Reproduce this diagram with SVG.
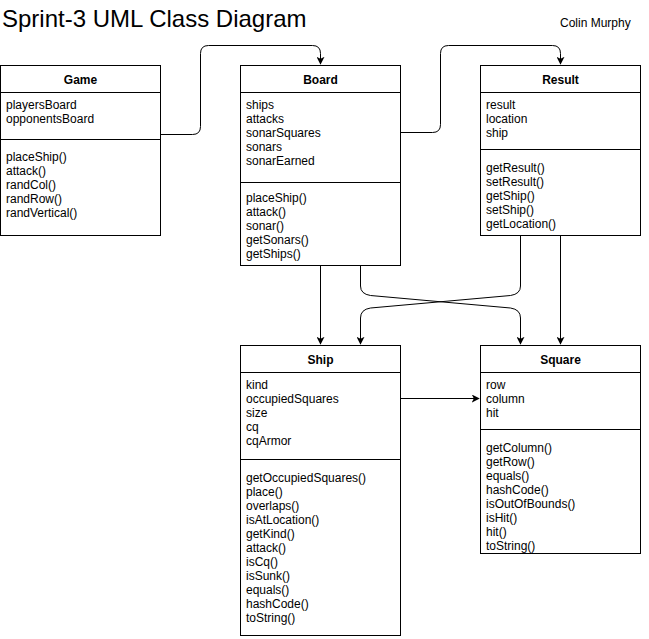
<svg xmlns="http://www.w3.org/2000/svg" width="649" height="639" viewBox="0 0 649 639">
<defs>
<marker id="arr" viewBox="0 0 10 10" refX="9" refY="5" markerWidth="8" markerHeight="8" markerUnits="userSpaceOnUse" orient="auto">
<path d="M0,0 L10,5 L0,10 L2.5,5 Z" fill="#000"/>
</marker>
<style>
.box{fill:#fff;stroke:#000;stroke-width:1}
.ln{stroke:#000;stroke-width:1}
text{font-family:"Liberation Sans",Arial,sans-serif;font-size:12px;fill:#000}
.hd{font-weight:bold;text-anchor:middle}
.c{fill:none;stroke:#000;stroke-width:1;marker-end:url(#arr)}
</style>
</defs>
<rect width="649" height="639" fill="#fff"/>
<text x="2" y="27" style="font-size:24px">Sprint-3 UML Class Diagram</text>
<text x="560" y="27">Colin Murphy</text>

<g id="connectors">
<path class="c" d="M160.5,134.5 H192.5 Q200.5,134.5 200.5,126.5 V53.5 Q200.5,45.5 208.5,45.5 H312.5 Q320.5,45.5 320.5,53.5 V64"/>
<path class="c" d="M400.5,132.5 H432.5 Q440.5,132.5 440.5,124.5 V53.5 Q440.5,45.5 448.5,45.5 H552.5 Q560.5,45.5 560.5,53.5 V64"/>
<path class="c" d="M320.5,265.5 V344"/>
<path class="c" d="M360.5,265.5 V286 Q360.5,294 370.5,295.5 L510.5,308 Q520.5,309.5 520.5,318 V344"/>
<path class="c" d="M520.5,235.5 V286 Q520.5,294 510.5,295.5 L370.5,308 Q360.5,309.5 360.5,318 V344"/>
<path class="c" d="M560.5,235.5 V344"/>
<path class="c" d="M400.5,398.5 H479"/>
</g>

<g id="game">
<rect class="box" x="0.5" y="65.5" width="160" height="170"/>
<line class="ln" x1="0.5" y1="92.5" x2="160.5" y2="92.5"/>
<line class="ln" x1="0.5" y1="139.5" x2="160.5" y2="139.5"/>
<text class="hd" x="80.5" y="84">Game</text>
<text x="6" y="109">playersBoard</text>
<text x="6" y="123">opponentsBoard</text>
<text x="6" y="161">placeShip()</text>
<text x="6" y="175">attack()</text>
<text x="6" y="189">randCol()</text>
<text x="6" y="203">randRow()</text>
<text x="6" y="217">randVertical()</text>
</g>

<g id="board">
<rect class="box" x="240.5" y="65.5" width="160" height="200"/>
<line class="ln" x1="240.5" y1="92.5" x2="400.5" y2="92.5"/>
<line class="ln" x1="240.5" y1="182.5" x2="400.5" y2="182.5"/>
<text class="hd" x="320.5" y="84">Board</text>
<text x="246" y="109">ships</text>
<text x="246" y="123">attacks</text>
<text x="246" y="137">sonarSquares</text>
<text x="246" y="151">sonars</text>
<text x="246" y="165">sonarEarned</text>
<text x="246" y="202">placeShip()</text>
<text x="246" y="216">attack()</text>
<text x="246" y="230">sonar()</text>
<text x="246" y="244">getSonars()</text>
<text x="246" y="258">getShips()</text>
</g>

<g id="result">
<rect class="box" x="480.5" y="65.5" width="160" height="170"/>
<line class="ln" x1="480.5" y1="92.5" x2="640.5" y2="92.5"/>
<line class="ln" x1="480.5" y1="149.5" x2="640.5" y2="149.5"/>
<text class="hd" x="560.5" y="84">Result</text>
<text x="486" y="109">result</text>
<text x="486" y="123">location</text>
<text x="486" y="137">ship</text>
<text x="486" y="172">getResult()</text>
<text x="486" y="186">setResult()</text>
<text x="486" y="200">getShip()</text>
<text x="486" y="214">setShip()</text>
<text x="486" y="228">getLocation()</text>
</g>

<g id="ship">
<rect class="box" x="240.5" y="345.5" width="160" height="290"/>
<line class="ln" x1="240.5" y1="372.5" x2="400.5" y2="372.5"/>
<line class="ln" x1="240.5" y1="459.5" x2="400.5" y2="459.5"/>
<text class="hd" x="320.5" y="364">Ship</text>
<text x="246" y="389">kind</text>
<text x="246" y="403">occupiedSquares</text>
<text x="246" y="417">size</text>
<text x="246" y="431">cq</text>
<text x="246" y="445">cqArmor</text>
<text x="246" y="482">getOccupiedSquares()</text>
<text x="246" y="496">place()</text>
<text x="246" y="510">overlaps()</text>
<text x="246" y="524">isAtLocation()</text>
<text x="246" y="538">getKind()</text>
<text x="246" y="552">attack()</text>
<text x="246" y="566">isCq()</text>
<text x="246" y="580">isSunk()</text>
<text x="246" y="594">equals()</text>
<text x="246" y="608">hashCode()</text>
<text x="246" y="622">toString()</text>
</g>

<g id="square">
<rect class="box" x="480.5" y="345.5" width="160" height="208"/>
<line class="ln" x1="480.5" y1="372.5" x2="640.5" y2="372.5"/>
<line class="ln" x1="480.5" y1="429.5" x2="640.5" y2="429.5"/>
<text class="hd" x="560.5" y="364">Square</text>
<text x="486" y="389">row</text>
<text x="486" y="403">column</text>
<text x="486" y="417">hit</text>
<text x="486" y="452">getColumn()</text>
<text x="486" y="466">getRow()</text>
<text x="486" y="480">equals()</text>
<text x="486" y="494">hashCode()</text>
<text x="486" y="508">isOutOfBounds()</text>
<text x="486" y="522">isHit()</text>
<text x="486" y="536">hit()</text>
<text x="486" y="550">toString()</text>
</g>
</svg>
